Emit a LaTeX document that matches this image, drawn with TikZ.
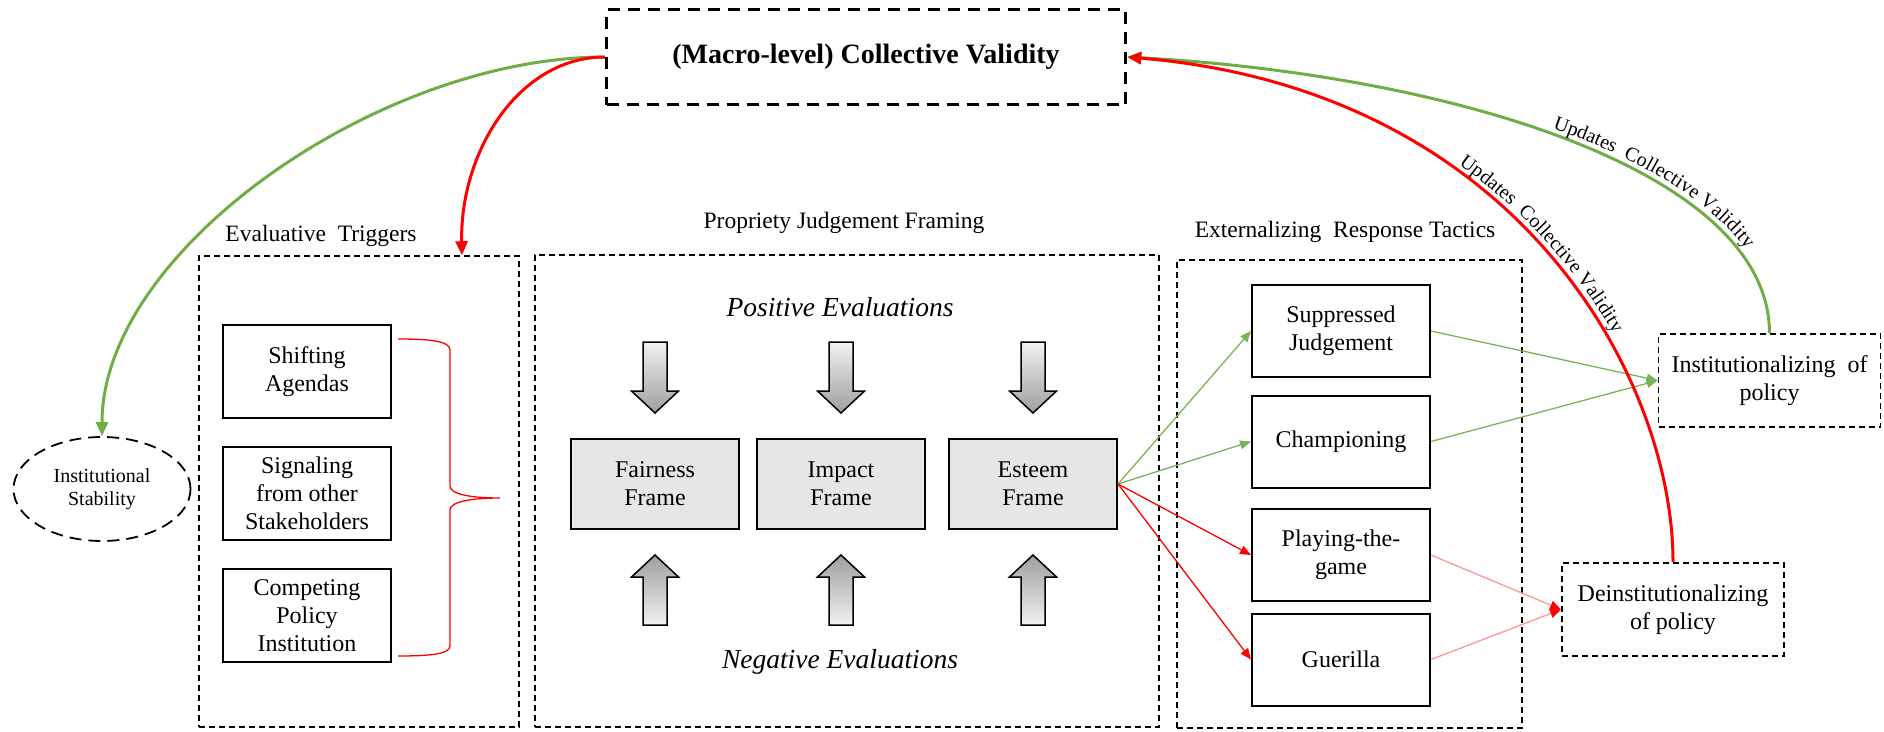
\documentclass[tikz,border=0pt]{standalone}
\usepackage{fontspec}
\setmainfont{Liberation Serif}
\usetikzlibrary{arrows.meta,shapes.geometric,calc,decorations.text}

\newcommand{\updfont}{\fontsize{20}{23}\selectfont}

\begin{document}
\begin{tikzpicture}[x=1pt,y=-1pt,
  every node/.style={align=center, inner sep=0pt},
  grpbox/.style={draw, line width=1.5pt, dash pattern=on 6pt off 4pt},
  trigbox/.style={draw, line width=2pt, minimum width=168pt, minimum height=93pt, font=\fontsize{24}{28}\selectfont},
  framebox/.style={draw, fill=framegray, line width=2pt, minimum width=168pt, minimum height=90pt, font=\fontsize{24}{28}\selectfont},
  tacticbox/.style={draw, line width=2pt, minimum width=178pt, minimum height=92pt, font=\fontsize{24}{28}\selectfont},
  outcomebox/.style={draw, line width=1.8pt, dash pattern=on 6pt off 4pt, minimum width=222pt, minimum height=93pt, font=\fontsize{24}{28}\selectfont},
  grplabel/.style={font=\fontsize{23.5}{27}\selectfont},
  evallabel/.style={font=\fontsize{27.5}{31}\selectfont\itshape},
  thinarrow/.style={line width=1.3pt, -{Triangle[length=11pt,width=9pt]}},
  thickarrow/.style={line width=3pt, -{Triangle[length=14pt,width=12pt]}},
]

% Colors
\definecolor{okgreen}{RGB}{112,173,71}    % green curves
\definecolor{tacgreen}{RGB}{120,180,85}   % thin green arrows
\definecolor{lightred}{RGB}{255,150,150}  % pink lines
\definecolor{framegray}{RGB}{230,230,230} % frame fill

\useasboundingbox (0,0) rectangle (1884,731);

% === TOP ===
\node[draw, line width=3.5pt, dash pattern=on 12pt off 8pt, minimum width=519pt, minimum height=95pt,
  font=\fontsize{28}{31}\selectfont\bfseries] (top) at (866,57) {(Macro-level) Collective Validity};

\node[draw, ellipse, line width=1.8pt, dash pattern=on 12pt off 7pt, minimum width=177pt, minimum height=104pt,
  font=\fontsize{20}{23}\selectfont] (stab) at (102,489) {Institutional\\Stability};

% === Evaluative Triggers ===
\node[grplabel] (triglab) at (321,236) {Evaluative\ \ Triggers};
\node[grpbox, minimum width=320pt, minimum height=471pt] (trig) at (359,491.5) {};
\node[trigbox] (shift) at (307,371.5) {Shifting\\Agendas};
\node[trigbox] (signal) at (307,493) {Signaling\\from other\\Stakeholders};
\node[trigbox] (compete) at (307,615.5) {Competing\\Policy\\Institution};

% brace
\draw[red, line width=1.3pt] (398,339) .. controls (430,339) and (450,341) .. (450,350) -- (450,486)
  .. controls (450,494) and (470,498) .. (500,498) .. controls (470,498) and (450,502) .. (450,510)
  -- (450,646) .. controls (450,654) and (430,656) .. (398,656);

% === Propriety Judgement Framing ===
\node[grplabel] (proplab) at (844,223) {Propriety Judgement Framing};
\node[grpbox, minimum width=624pt, minimum height=472pt] (prop) at (847,491) {};
\node[evallabel] (pos) at (840,307) {Positive Evaluations};
\node[evallabel] (neg) at (840,662) {Negative Evaluations};

\node[framebox] (fair) at (655,484) {Fairness\\Frame};
\node[framebox] (imp) at (841,484) {Impact\\Frame};
\node[framebox] (est) at (1033,484) {Esteem\\Frame};

\foreach \f in {fair,imp,est} {
  \shadedraw[top color=black!5, bottom color=black!38, line width=1.5pt]
    ($(\f.north)+(-12,-96)$) -- ++(24,0) -- ++(0,49) -- ++(11.5,0) -- ($(\f.north)+(0,-25)$)
    -- ($(\f.north)+(-23.5,-47)$) -- ++(11.5,0) -- cycle;
  \shadedraw[top color=black!38, bottom color=black!5, line width=1.5pt]
    ($(\f.south)+(-12,95)$) -- ++(24,0) -- ++(0,-48) -- ++(11.5,0) -- ($(\f.south)+(0,25)$)
    -- ($(\f.south)+(-23.5,47)$) -- ++(11.5,0) -- cycle;
}

% === Externalizing Response Tactics ===
\node[grplabel] (taclab) at (1345,232) {Externalizing\ \ Response Tactics};
\node[grpbox, minimum width=345pt, minimum height=468pt] (tac) at (1349.5,494) {};
\node[tacticbox] (supp) at (1341,331) {Suppressed\\Judgement};
\node[tacticbox] (champ) at (1341,441.5) {Championing};
\node[tacticbox] (play) at (1341,555) {Playing-the-\\game};
\node[tacticbox] (guer) at (1341,659.5) {Guerilla};

% === Outcomes ===
\node[outcomebox] (inst) at (1769.5,380.5) {Institutionalizing\ \ of\\policy};
\node[outcomebox] (deinst) at (1673,609.5) {Deinstitutionalizing\\of policy};

% === Arrows ===
\draw[thinarrow, tacgreen] (est.east) -- (supp.west);
\draw[thinarrow, tacgreen] (est.east) -- (champ.west);
\draw[thinarrow, red] (est.east) -- (play.west);
\draw[thinarrow, red] (est.east) -- (guer.west);

\draw[thinarrow, tacgreen] (supp.east) -- (inst.west);
\draw[thinarrow, tacgreen] (champ.east) -- (inst.west);
\draw[line width=1.3pt, lightred, -{Triangle[length=11pt,width=9pt,color=red]}] (play.east) -- (deinst.west);
\draw[line width=1.3pt, lightred, -{Triangle[length=11pt,width=9pt,color=red]}] (guer.east) -- (deinst.west);

\coordinate (trigin) at ($(trig.north west)!0.82!(trig.north east)$);
\draw[thickarrow, okgreen] (top.west) .. controls (380,57) and (102,250) .. (stab.north);
\draw[thickarrow, red] (top.west) .. controls (520,57) and (460,150) .. (trigin);

\draw[thickarrow, okgreen] (inst.north) .. controls (1769,170) and (1450,75) .. (top.east);
\draw[thickarrow, red] (deinst.north) .. controls (1673,380) and (1520,90) .. (top.east);

% labels along the curves
\path[decorate, decoration={text along path, raise=6pt, text align={right, right indent=86pt},
  text={|\updfont|Updates\ \ Collective Validity}}]
  (top.east) .. controls (1450,75) and (1769,170) .. (inst.north);
\path[decorate, decoration={text along path, raise=7pt, text align={right, right indent=237pt},
  text={|\updfont|Updates\ \ Collective Validity}}]
  (top.east) .. controls (1520,90) and (1673,380) .. (deinst.north);

\end{tikzpicture}
\end{document}
